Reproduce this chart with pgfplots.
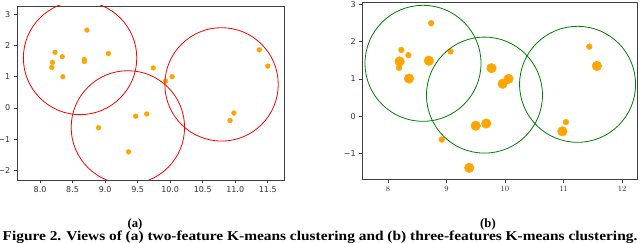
\documentclass[border=0pt]{standalone}
\usepackage{pgfplots}
\pgfplotsset{compat=1.18}
\usepackage{fontspec}
\setmainfont{Liberation Serif}
\newfontfamily\dv{DejaVu Sans}
\definecolor{mplorange}{HTML}{FFA500}
\definecolor{mplgreen}{HTML}{008000}
\begin{document}
\begin{tikzpicture}
\useasboundingbox (0,0) rectangle (640pt,243pt);
\pgfplotsset{every axis/.append style={scale only axis, anchor=south west,
  axis line style={black!75, line width=0.8pt}, tick pos=left, tick align=outside,
  major tick length=3.5pt, tick style={black!75, line width=0.6pt},
  ticklabel style={font=\dv\fontsize{8}{9}\selectfont, text=black!80},
  clip marker paths=true}}
% (a)
\begin{axis}[at={(17.3pt,63pt)}, width=266.7pt, height=174pt,
  xmin=7.65, xmax=11.75, ymin=-2.3, ymax=3.26,
  xtick={8,8.5,9,9.5,10,10.5,11,11.5}, xticklabels={8.0,8.5,9.0,9.5,10.0,10.5,11.0,11.5},
  ytick={-2,-1,0,1,2,3}, yticklabels={−2,−1,0,1,2,3}]
\addplot[only marks, color=mplorange, mark=*, mark size=2.4pt, mark options={solid, draw=mplorange, fill=mplorange}] coordinates {
(8.19,1.46) (8.18,1.30) (8.23,1.78) (8.34,1.64) (8.35,1.00) (8.68,1.55) (8.68,1.49)
(8.72,2.49) (9.05,1.74) (9.74,1.28) (9.93,0.86) (10.03,1.00) (9.47,-0.26) (9.64,-0.19)
(8.90,-0.63) (9.36,-1.40) (10.92,-0.40) (10.98,-0.16) (11.37,1.86) (11.50,1.34)};
\addplot[only marks, mark=o, mark size=56.7pt, color=red, line width=0.8pt] coordinates {
(8.615,1.60) (9.35,-0.62) (10.79,0.755)};
\end{axis}
% (b)
\begin{axis}[at={(362.7pt,63.7pt)}, width=274.6pt, height=177.3pt,
  xmin=7.57, xmax=12.26, ymin=-1.70, ymax=3.07,
  xtick={8,9,10,11,12}, ytick={-1,0,1,2,3}, yticklabels={−1,0,1,2,3}]
\addplot[only marks, color=mplorange, mark=*, mark size=2.9pt, mark options={solid, draw=mplorange, fill=mplorange}] coordinates {
(8.19,1.30) (8.23,1.78) (8.35,1.64) (8.74,2.50) (9.07,1.74) (8.92,-0.63) (11.04,-0.16) (11.44,1.87)};
\addplot[only marks, color=mplorange, mark=*, mark size=4.8pt, mark options={solid, draw=mplorange, fill=mplorange}] coordinates {
(8.20,1.47) (8.36,1.01) (8.70,1.49) (9.77,1.29) (9.96,0.87) (10.06,1.00) (9.50,-0.26)
(9.68,-0.20) (9.39,-1.39) (10.98,-0.41) (11.57,1.35)};
\addplot[only marks, mark=o, mark size=58pt, color=mplgreen, line width=0.8pt] coordinates {
(8.60,1.42) (9.65,0.565) (11.24,0.855)};
\end{axis}
\node[anchor=base, inner sep=0pt, font=\bfseries\fontsize{12.7}{13}\selectfont] at (135pt,15.3pt) {(a)};
\node[anchor=base, inner sep=0pt, font=\bfseries\fontsize{12.7}{13}\selectfont] at (488pt,15.3pt) {(b)};
\node[anchor=base, inner sep=0pt] at (320pt,2.3pt) {\scalebox{1.14}[1]{\bfseries\fontsize{13.5}{14}\selectfont Figure 2. Views of (a) two-feature K-means clustering and (b) three-features K-means clustering.}};
\end{tikzpicture}
\end{document}
